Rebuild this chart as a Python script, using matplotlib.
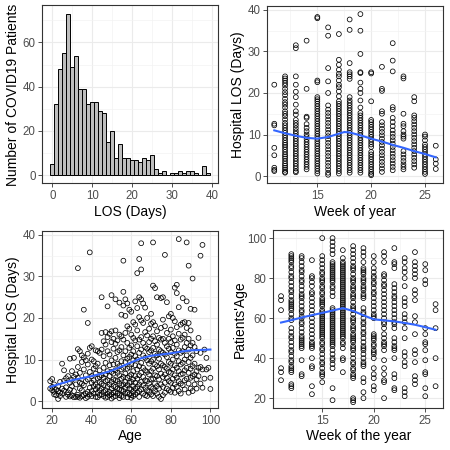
import matplotlib
matplotlib.use("Agg")
import matplotlib.pyplot as plt
from matplotlib.ticker import MultipleLocator

plt.rcParams["font.family"] = ["Liberation Sans", "DejaVu Sans"]

W = H = 450  # figure size in px

# ---- panel A: LOS histogram (bin width 1 day) ----
los_bins = [0, 1, 2, 3, 4, 5, 6, 7, 8, 9, 10, 11, 12, 13, 14, 15, 16, 17, 18, 19,
            20, 21, 22, 23, 24, 25, 26, 27, 28, 29, 30, 31, 32, 33, 34, 35, 36, 37, 38, 39]
los_counts = [5, 32, 48, 55, 73, 49, 54, 39, 39, 32, 33, 33, 29, 28, 15, 20, 8, 14, 8, 8,
              7, 7, 6, 8, 7, 9, 3, 1, 2, 0, 1, 1, 2, 1, 2, 2, 1, 0, 4, 1]

# ---- panel B / D: by week of year ----
weeks = [11, 12, 13, 14, 15, 16, 17, 18, 19, 20, 21, 22, 23, 24, 25, 26]
los_by_week = [
    [22.0, 12.6, 12.2, 6.8, 5.0, 2.0, 1.5, 1.2],
    [24.0, 23.5, 23.0, 22.4, 21.8, 21.0, 20.2, 19.5, 18.6, 17.8, 17.2, 16.5, 15.6, 15.0,
     14.4, 13.6, 12.8, 12.2, 11.6, 11.0, 10.4, 9.8, 9.2, 8.6, 8.0, 7.5, 7.0, 6.4, 5.8,
     5.2, 4.7, 4.2, 3.6, 3.0, 2.5, 2.0, 1.5, 1.0, 0.8],
    [31.5, 30.8, 24.0, 22.0, 20.3, 19.0, 17.2, 15.6, 14.8, 13.5, 12.8, 12.2, 11.5, 10.8,
     10.2, 9.6, 9.0, 8.4, 7.8, 7.2, 6.6, 6.0, 5.4, 4.8, 4.2, 3.6, 3.0, 2.4, 1.8, 1.2, 0.9],
    [32.6, 21.0, 14.3, 14.0, 12.5, 11.6, 10.8, 10.0, 9.4, 8.8, 8.2, 7.6, 7.0, 6.4, 5.8,
     5.2, 4.6, 4.0, 3.4, 2.8, 2.2, 1.6],
    [38.3, 38.0, 23.0, 22.6, 19.0, 18.5, 18.0, 17.4, 16.8, 16.2, 15.6, 15.0, 14.4, 13.8,
     13.2, 12.6, 12.0, 11.4, 10.8, 10.2, 9.6, 9.0, 8.4, 7.8, 7.2, 6.6, 6.0, 5.4, 4.8, 4.2,
     3.6, 3.0, 2.4, 1.8, 1.2, 0.6],
    [35.8, 33.8, 26.0, 22.8, 20.0, 17.0, 16.0, 15.2, 14.4, 13.6, 12.8, 12.0, 11.2, 10.4,
     9.6, 8.8, 8.0, 7.2, 6.4, 5.6, 4.8, 4.0, 3.2, 2.4, 1.6, 0.8, 0.3],
    [34.2, 28.0, 26.8, 25.6, 24.6, 24.0, 23.0, 22.0, 21.4, 20.4, 19.2, 18.0, 17.4, 16.8,
     16.2, 15.6, 15.0, 14.4, 13.8, 13.2, 12.6, 12.0, 11.4, 10.8, 10.2, 9.6, 9.0, 8.4, 7.8,
     7.2, 6.6, 6.0, 5.4, 4.8, 4.2, 3.6, 3.0, 2.4, 1.8, 1.2, 0.6],
    [37.7, 35.2, 27.2, 25.0, 24.5, 24.0, 23.4, 19.0, 18.2, 17.6, 17.0, 16.4, 15.8, 15.2,
     14.6, 14.0, 13.4, 12.8, 12.2, 11.6, 11.0, 10.4, 9.8, 9.2, 8.6, 8.0, 7.4, 6.8, 6.2,
     5.6, 5.0, 4.4, 3.8, 3.2, 2.6, 2.0, 1.4, 0.8],
    [39.0, 35.0, 29.4, 25.0, 24.8, 22.5, 21.0, 20.0, 18.2, 16.5, 15.2, 14.6, 14.0, 13.4,
     12.8, 12.2, 11.6, 11.0, 10.4, 9.8, 9.2, 8.6, 8.0, 7.4, 6.8, 6.2, 5.6, 5.0, 4.4, 3.8,
     3.2, 2.6, 2.0, 1.4, 0.8],
    [25.0, 24.7, 18.0, 13.5, 13.0, 12.4, 11.8, 11.2, 10.6, 10.0, 9.4, 8.8, 8.2, 7.6, 7.0,
     5.8, 5.2, 4.6, 4.0, 3.4, 2.8, 2.2, 1.6, 1.0, 0.5, 0.2],
    [26.3, 21.0, 20.5, 15.6, 15.0, 13.0, 12.2, 11.4, 10.6, 9.8, 9.0, 8.2, 7.4, 6.6, 5.8,
     5.0, 4.2, 3.4, 2.6, 1.8, 1.0],
    [32.0, 27.8, 25.2, 16.6, 16.0, 14.0, 13.0, 12.0, 11.0, 10.2, 9.4, 8.6, 7.8, 7.0, 6.2,
     5.4, 4.6, 3.8, 3.0, 2.2, 1.4],
    [24.0, 23.5, 15.0, 12.6, 12.0, 10.8, 10.0, 9.5, 9.0, 6.0, 5.2, 4.4, 3.6, 2.8, 2.2, 1.6],
    [19.0, 18.0, 14.6, 14.0, 13.2, 12.4, 11.6, 10.8, 10.0, 9.2, 8.4, 7.6, 6.8, 6.0, 5.2,
     4.4, 3.6, 2.8, 2.0],
    [10.0, 9.5, 8.6, 7.6, 7.0, 6.4, 5.8, 5.2, 4.6, 4.0, 3.4, 2.8, 2.2, 1.6, 1.0, 0.5],
    [7.3, 4.0, 3.0, 1.7],
]
smooth_b_x = [11, 12, 13, 14, 15, 16, 17, 17.5, 18, 19, 20, 21, 22, 23, 24, 25, 26]
smooth_b_y = [11.0, 10.3, 9.7, 9.2, 9.0, 9.4, 10.2, 10.6, 10.5, 9.8, 9.0, 8.3, 7.5, 6.8, 6.0, 5.3, 4.5]

age_by_week = [
    [71, 69, 64, 35, 33, 29],
    [92, 91, 90, 89, 88, 86, 85, 83, 81, 80, 78, 76, 74, 73, 71, 69, 68, 67, 66, 65, 64,
     62, 60, 59, 55, 53, 51, 50, 48, 46, 44, 43, 41, 39, 38, 36, 35, 34, 33, 27, 26, 25],
    [91, 90, 88, 86, 84, 83, 81, 79, 78, 76, 74, 72, 71, 70, 68, 66, 64, 63, 61, 60, 58,
     57, 55, 53, 51, 50, 49, 48, 47, 46, 45, 39, 32, 31],
    [89, 81, 80, 78, 76, 73, 72, 70, 68, 66, 64, 62, 60, 58, 56, 54, 52, 50, 48, 47, 46,
     45, 40, 36, 35, 26, 22],
    [100, 91, 89, 87, 85, 83, 82, 80, 79, 78, 76, 75, 73, 72, 70, 69, 68, 67, 66, 64, 63,
     62, 61, 60, 59, 58, 57, 56, 55, 54, 53, 52, 51, 50, 48, 47, 45, 44, 42, 40, 38, 37,
     35, 33, 32, 31, 28],
    [100, 98, 96, 94, 92, 88, 87, 86, 85, 84, 83, 82, 81, 80, 79, 78, 76, 75, 73, 71, 65,
     64, 63, 62, 61, 60, 59, 58, 57, 56, 55, 54, 53, 52, 51, 50, 49, 48, 47, 46, 44, 42,
     40, 39, 37, 35, 25, 19],
    [94, 90, 88, 87, 86, 85, 84, 83, 82, 81, 80, 79, 78, 77, 76, 75, 74, 73, 72, 71, 70,
     69, 68, 67, 66, 65, 64, 63, 62, 61, 60, 59, 58, 57, 56, 55, 54, 53, 52, 51, 50, 48,
     47, 45, 40, 39, 33],
    [96, 94, 92, 90, 88, 86, 85, 84, 82, 80, 79, 78, 76, 75, 74, 72, 71, 70, 68, 66, 65,
     64, 62, 60, 59, 58, 56, 55, 54, 52, 51, 50, 49, 48, 46, 45, 44, 42, 40, 38, 37, 35,
     34, 32, 31, 30, 20, 19, 18],
    [95, 93, 91, 88, 85, 84, 83, 82, 80, 79, 78, 76, 75, 74, 72, 71, 70, 65, 63, 62, 60,
     58, 57, 55, 53, 52, 50, 48, 46, 45, 44, 42, 40, 38, 37, 36, 30, 28, 23, 20],
    [91, 88, 85, 83, 81, 80, 78, 77, 75, 73, 72, 70, 68, 66, 64, 62, 61, 60, 52, 51, 50,
     49, 47, 46, 44, 43, 42, 40, 35, 32, 30, 26, 24],
    [93, 91, 88, 82, 81, 79, 77, 76, 74, 72, 70, 68, 66, 64, 62, 60, 58, 57, 55, 52, 50,
     48, 47, 46, 44, 39, 35, 32, 29, 28, 20],
    [95, 88, 87, 85, 77, 75, 73, 71, 70, 68, 66, 64, 62, 60, 58, 57, 55, 50, 48, 46, 45,
     44, 40, 32, 30, 25, 24],
    [90, 88, 85, 83, 80, 76, 70, 68, 66, 62, 60, 58, 55, 50, 43, 41, 38, 36, 25, 23, 21],
    [93, 88, 86, 84, 82, 80, 74, 72, 69, 61, 58, 52, 44, 42, 38, 31, 29, 27],
    [87, 84, 79, 77, 55, 52, 48, 47, 44, 39, 33, 32, 25, 21],
    [67, 64, 55, 40, 26],
]
smooth_d_x = [11, 12, 13, 14, 15, 16, 17, 18, 19, 20, 21, 22, 23, 24, 25, 26]
smooth_d_y = [57.8, 59.0, 60.3, 61.5, 62.6, 63.8, 65.0, 63.6, 61.4, 59.4, 58.9, 58.4, 57.6, 56.7, 55.5, 54.2]

# ---- panel C: LOS by age ----
ages = [19, 20, 21, 22, 23, 24, 25, 26, 27, 28, 29, 30, 31, 32, 33, 34, 35, 36, 37, 38,
        39, 40, 41, 42, 43, 44, 45, 46, 47, 48, 49, 50, 51, 52, 53, 54, 55, 56, 57, 58,
        59, 60, 61, 62, 63, 64, 65, 66, 67, 68, 69, 70, 71, 72, 73, 74, 75, 76, 77, 78,
        79, 80, 81, 82, 83, 84, 85, 86, 87, 88, 89, 90, 91, 92, 93, 94, 95, 96, 97, 98,
        99, 100]
los_by_age = [
    [4.8, 3.0], [5.3, 3.4, 2.6], [4.0, 2.2, 1.6], [2.8, 1.4], [3.5, 0.5, 2.4],
    [4.6, 2.0, 1.2], [9.0, 3.0, 1.8], [7.4, 4.9, 2.5], [5.5, 3.3, 1.0], [6.0, 2.1, 1.5],
    [10.2, 4.4, 2.7, 1.1], [7.2, 5.1, 3.6, 1.3], [10.4, 5.8, 2.4, 0.9], [6.4, 4.0, 1.0],
    [32.0, 12.5, 8.2, 5.6, 1.5, 1.0], [12.0, 6.8, 4.4, 3.0, 0.8], [11.0, 9.4, 4.2, 2.6, 1.2],
    [22.0, 10.5, 7.6, 3.8, 1.4], [9.8, 6.2, 4.8, 1.8, 0.7], [18.8, 11.4, 8.8, 5.2, 2.2, 1.0],
    [35.8, 12.8, 7.0, 3.2, 1.6], [13.2, 10.0, 6.0, 4.4, 2.4, 1.2], [9.6, 7.8, 5.0, 3.6, 1.8],
    [12.2, 8.4, 6.6, 4.0, 2.8, 1.0], [12.0, 9.0, 5.4, 3.4, 2.0, 0.9],
    [11.6, 7.4, 5.8, 4.6, 2.6, 1.4], [25.0, 16.4, 12.4, 6.2, 4.2, 3.0, 1.6],
    [14.4, 10.8, 8.0, 5.6, 3.8, 2.2, 1.2], [16.6, 13.6, 9.2, 6.4, 4.8, 2.6, 0.8],
    [22.8, 15.4, 12.0, 7.2, 5.0, 3.4, 1.8, 1.0], [16.2, 11.2, 8.6, 6.0, 4.0, 2.2, 1.4],
    [25.5, 16.8, 14.2, 9.8, 7.0, 4.6, 3.0, 1.6, 0.6], [15.0, 12.6, 8.8, 6.6, 5.2, 3.6, 2.0, 1.0],
    [24.5, 17.0, 13.8, 10.4, 7.4, 5.0, 3.4, 2.2, 1.2], [14.6, 11.8, 9.0, 6.8, 4.8, 3.0, 1.8],
    [23.7, 16.0, 12.2, 8.4, 6.2, 4.2, 2.8, 1.4, 0.7], [20.8, 15.6, 13.0, 9.6, 7.6, 5.4, 3.8, 2.6, 1.2],
    [33.8, 26.3, 23.0, 14.8, 11.0, 8.0, 5.8, 4.0, 2.4, 1.0],
    [24.5, 20.5, 16.4, 12.0, 9.4, 6.6, 4.6, 3.2, 1.8], [23.5, 18.0, 14.0, 10.2, 7.8, 5.6, 3.8, 2.0, 0.9],
    [22.0, 17.4, 12.8, 10.6, 8.2, 6.0, 4.4, 3.0, 1.6],
    [21.5, 16.0, 13.4, 11.2, 8.8, 6.4, 4.6, 2.8, 1.4, 0.8], [19.0, 15.2, 12.0, 9.8, 7.2, 5.2, 3.6, 2.2, 1.2],
    [24.0, 18.4, 14.6, 10.8, 8.6, 6.0, 4.4, 3.0, 1.6], [30.8, 22.4, 17.0, 13.2, 10.0, 7.6, 5.4, 3.4, 2.0],
    [34.2, 25.0, 20.2, 14.8, 11.6, 8.4, 6.2, 4.0, 2.4, 1.0],
    [38.0, 31.7, 24.5, 19.4, 15.4, 12.4, 9.2, 6.8, 4.6, 2.8],
    [23.5, 18.8, 14.0, 11.0, 8.0, 5.8, 3.8, 1.8], [22.5, 16.6, 13.0, 10.4, 7.4, 5.0, 3.2, 1.4],
    [20.0, 15.8, 12.6, 9.8, 7.0, 4.8, 2.6, 1.2], [17.4, 14.2, 11.8, 9.0, 6.4, 4.2, 2.2],
    [21.0, 18.6, 15.0, 12.2, 9.6, 7.2, 5.2, 3.4, 1.6],
    [38.2, 27.8, 19.0, 15.6, 12.8, 10.0, 7.8, 5.4, 3.0, 1.2],
    [27.2, 18.2, 14.4, 11.4, 8.8, 6.2, 4.2, 2.4], [25.0, 16.8, 13.6, 11.0, 8.4, 6.0, 3.6, 1.8],
    [15.2, 12.4, 10.2, 7.6, 5.2, 3.0, 1.0], [24.8, 17.6, 14.8, 12.0, 9.0, 6.6, 4.0, 0.5],
    [25.0, 19.6, 15.0, 11.6, 8.6, 5.8, 3.4, 1.4], [35.2, 18.0, 14.0, 11.2, 8.2, 6.4, 4.4, 2.0],
    [23.8, 16.4, 13.2, 10.6, 7.8, 5.6, 3.0], [20.4, 15.0, 12.6, 9.4, 7.0, 4.8, 2.6],
    [21.0, 17.2, 14.2, 11.8, 9.0, 6.8, 4.4, 2.2], [20.0, 15.6, 12.8, 10.0, 7.6, 5.4, 3.2],
    [27.3, 19.2, 14.6, 11.4, 8.6, 6.2, 4.0, 2.0], [28.0, 26.0, 17.8, 13.6, 10.8, 8.0, 5.6, 3.4],
    [39.0, 22.6, 16.2, 12.2, 9.6, 7.2, 4.8, 2.4], [18.4, 14.8, 11.6, 8.8, 6.4, 4.2, 1.8],
    [24.8, 18.8, 15.2, 12.0, 9.2, 6.6, 3.8], [19.0, 16.0, 13.0, 10.0, 7.4, 5.0, 2.8],
    [38.2, 24.0, 17.6, 14.0, 11.0, 8.0, 5.4], [32.6, 18.8, 15.0, 12.4, 9.4, 6.8, 4.2, 2.0],
    [22.2, 17.0, 13.4, 10.4, 7.8, 5.6, 3.0], [29.5, 14.0, 11.0, 8.4, 6.0, 2.4],
    [22.0, 13.0, 9.0, 6.4, 4.0], [12.0, 7.2, 5.2, 3.0], [15.2, 8.0, 6.0],
    [35.0, 11.6, 8.2, 4.2], [37.6, 7.6, 3.2], [12.4, 5.4], [10.4, 7.6], [8.0], [5.6, 2.9],
]
smooth_c_x = [19, 25, 30, 35, 40, 45, 50, 55, 60, 65, 70, 75, 80, 85, 90, 95, 100]
smooth_c_y = [3.4, 4.3, 5.0, 5.5, 6.0, 6.6, 7.3, 8.3, 9.3, 10.3, 10.9, 11.2, 11.5, 11.9, 12.2, 12.3, 12.4]

assert len(ages) == len(los_by_age)

BLUE = "#3366FF"
BORDER = "#333333"


def flatten(keys, groups):
    xs = [k for k, g in zip(keys, groups) for _ in g]
    ys = [v for g in groups for v in g]
    return xs, ys


def panel(fig, box, xlabel, ylabel, xlab_y, ylab_x):
    """box = (left, top, right, bottom) in px; label centres in px."""
    left, top, right, bottom = box
    ax = fig.add_axes([left / W, 1 - bottom / H, (right - left) / W, (bottom - top) / H])
    for s in ax.spines.values():
        s.set_color(BORDER)
        s.set_linewidth(0.8)
    ax.grid(True, which="major", color="#EBEBEB", linewidth=0.8)
    ax.grid(True, which="minor", color="#F2F2F2", linewidth=0.45)
    ax.set_axisbelow(True)
    ax.tick_params(which="major", length=2.75, width=0.6, color=BORDER,
                   labelsize=8.3, labelcolor="#4D4D4D", pad=2)
    ax.tick_params(which="minor", length=0)
    ax.set_xlabel(xlabel, fontsize=10, va="center")
    ax.xaxis.set_label_coords(0.5, (bottom - xlab_y) / (bottom - top))
    ax.set_ylabel(ylabel, fontsize=10, va="center", ha="center")
    ax.yaxis.set_label_coords((ylab_x - left) / (right - left), 0.5)
    return ax


def scatter(ax, xs, ys):
    ax.scatter(xs, ys, s=12, facecolors="none", edgecolors="black", linewidths=0.55, zorder=3)


fig = plt.figure(figsize=(W / 100, H / 100), dpi=100)

# A: histogram
ax = panel(fig, (42.3, 5.5, 218.3, 183.3), "LOS (Days)", "Number of COVID19 Patients", 211.7, 13.3)
ax.bar(los_bins, los_counts, width=1, color="#BEBEBE", edgecolor="black", linewidth=0.7, zorder=3)
ax.set_xlim(-2.5, 41.5)
ax.set_ylim(-3.65, 76.65)
ax.xaxis.set_major_locator(MultipleLocator(10))
ax.xaxis.set_minor_locator(MultipleLocator(5))
ax.yaxis.set_major_locator(MultipleLocator(20))
ax.yaxis.set_minor_locator(MultipleLocator(10))

# B: LOS vs week
ax = panel(fig, (267.3, 6, 443.3, 183.3), "Week of year", "Hospital LOS (Days)", 211.7, 238.3)
xs, ys = flatten(weeks, los_by_week)
scatter(ax, xs, ys)
ax.plot(smooth_b_x, smooth_b_y, color=BLUE, linewidth=1.5, zorder=4)
ax.set_xlim(10.35, 26.7)
ax.set_ylim(-1.75, 40.95)
ax.xaxis.set_major_locator(MultipleLocator(5))
ax.xaxis.set_minor_locator(MultipleLocator(2.5))
ax.yaxis.set_major_locator(MultipleLocator(10))
ax.yaxis.set_minor_locator(MultipleLocator(5))

# C: LOS vs age
ax = panel(fig, (42.3, 231, 218.3, 408.3), "Age", "Hospital LOS (Days)", 435.7, 13.3)
xs, ys = flatten(ages, los_by_age)
scatter(ax, xs, ys)
ax.plot(smooth_c_x, smooth_c_y, color=BLUE, linewidth=1.5, zorder=4)
ax.set_xlim(15.0, 104.0)
ax.set_ylim(-1.75, 40.95)
ax.xaxis.set_major_locator(MultipleLocator(20))
ax.xaxis.set_minor_locator(MultipleLocator(10))
ax.yaxis.set_major_locator(MultipleLocator(10))
ax.yaxis.set_minor_locator(MultipleLocator(5))

# D: age vs week
ax = panel(fig, (273.3, 230, 443.3, 408.3), "Week of the year", "Patients'Age", 435.7, 240)
xs, ys = flatten(weeks, age_by_week)
scatter(ax, xs, ys)
ax.plot(smooth_d_x, smooth_d_y, color=BLUE, linewidth=1.5, zorder=4)
ax.set_xlim(10.25, 26.75)
ax.set_ylim(14.95, 104.05)
ax.xaxis.set_major_locator(MultipleLocator(5))
ax.xaxis.set_minor_locator(MultipleLocator(2.5))
ax.yaxis.set_major_locator(MultipleLocator(20))
ax.yaxis.set_minor_locator(MultipleLocator(10))

fig.savefig("out.png", dpi=100, facecolor="white")
